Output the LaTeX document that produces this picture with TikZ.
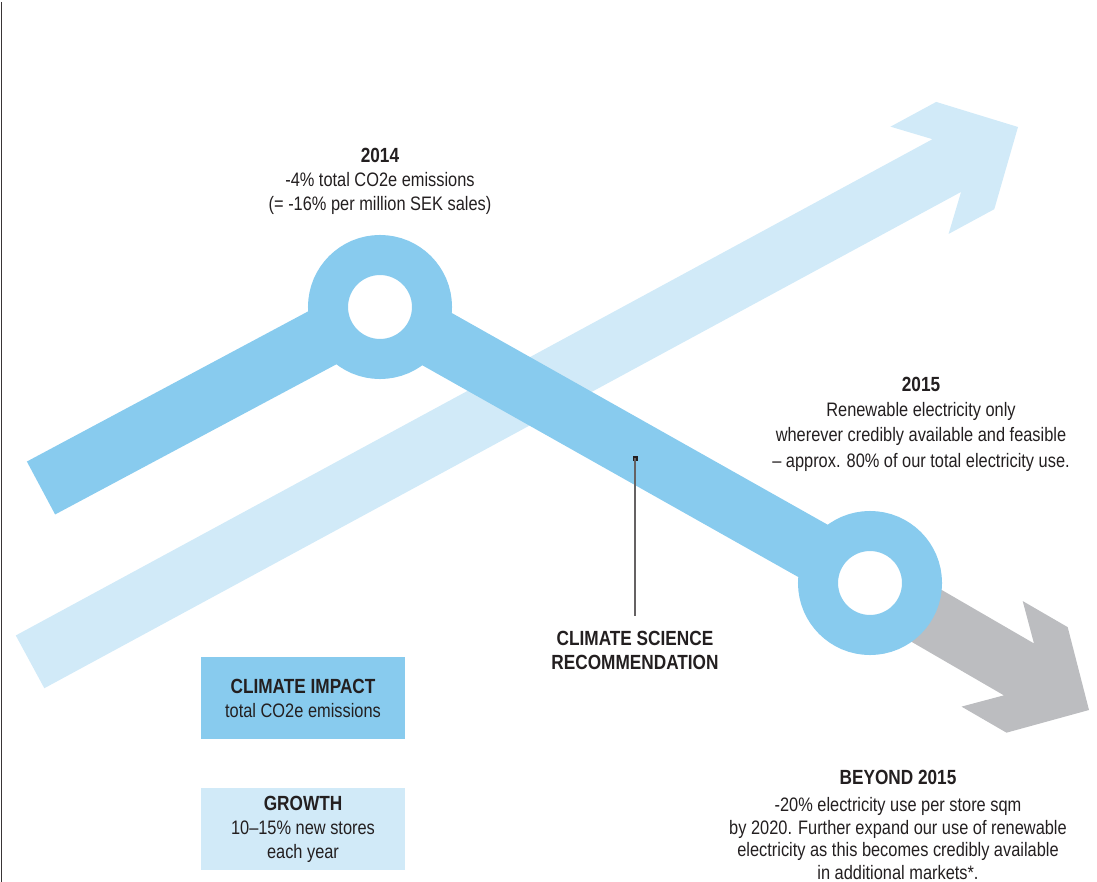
\documentclass[tikz,border=0pt]{standalone}
\usepackage{fontspec}
\setmainfont{Liberation Sans}[FakeStretch=0.84]
\definecolor{impact}{HTML}{88CBEE}
\definecolor{growth}{HTML}{D1EAF8}
\definecolor{future}{HTML}{BCBDC0}
\definecolor{ink}{HTML}{231F20}
\tikzset{
 txt/.style={text=ink, align=center, inner sep=0pt, font=\fontsize{19.5}{24}\selectfont},
 legendbox/.style={minimum width=204pt, minimum height=82pt, inner sep=0pt, align=center, text=ink, font=\fontsize{19.5}{24}\selectfont},
 ring/.style={circle, draw=impact, line width=40pt, fill=white, minimum size=104pt, inner sep=0pt},
 band/.style={line width=60pt, draw=impact},
}
\newcommand{\hd}[1]{{\fontsize{20.5}{24}\selectfont\bfseries #1}}
\begin{document}
\begin{tikzpicture}[x=1pt,y=-1pt]
\useasboundingbox (0,0) rectangle (1097,882);
% left rule
\coordinate (rt) at (1.5,2);
\coordinate (rb) at (1.5,882);
\draw[ink!90, line width=1.5pt] (rt) -- (rb);
% growth arrow
\begin{scope}[shift={(1018,127)}, rotate=28.43]
\fill[growth] (-1123.5,30) -- (-81,30) -- (-112,61) -- (-60,61) -- (0,0) -- (-60,-61) -- (-112,-61) -- (-81,-30) -- (-1123.5,-30) -- cycle;
\end{scope}
% future arrow
\begin{scope}[shift={(1089,710)}, rotate=-30.1]
\fill[future] (-253,30) -- (-81,30) -- (-112,61) -- (-60,61) -- (0,0) -- (-60,-61) -- (-112,-61) -- (-81,-30) -- (-253,-30) -- cycle;
\end{scope}
% climate impact line
\coordinate (tail) at (41,488);
\coordinate (p1) at (380,307);
\coordinate (p2) at (870,583);
\draw[band] (tail) -- (p1) -- (p2);
\node[ring] (c1) at (p1) {};
\node[ring] (c2) at (p2) {};
% pointer
\coordinate (pe) at (635,616);
\node[fill=ink, minimum size=5pt, inner sep=0pt] (sq) at (635,458) {};
\draw[ink!70, line width=1.3pt] (sq.center) -- (pe);
\node[txt, font=\fontsize{20.5}{24}\selectfont\bfseries] (cs) at (635,650) {CLIMATE SCIENCE\\RECOMMENDATION};
% texts
\node[txt] (t14) at (380,181) {\hd{2014}\\-4\% total CO2e emissions\\(= -16\% per million SEK sales)};
\node[txt, font=\fontsize{19.5}{25.3}\selectfont] (t15) at (921,424) {\hd{2015}\\Renewable electricity only\\wherever credibly available and feasible\\– approx. 80\% of our total electricity use.};
\node[txt, font=\fontsize{19.5}{22.7}\selectfont] (tb) at (898,825) {\hd{BEYOND 2015}\\[4pt]-20\% electricity use per store sqm\\by 2020. Further expand our use of renewable\\electricity as this becomes credibly available\\in additional markets*.};
% legend
\node[legendbox, fill=impact] (li) at (303,698) {\hd{CLIMATE IMPACT}\\total CO2e emissions};
\node[legendbox, fill=growth] (lg) at (303,829) {\hd{GROWTH}\\10–15\% new stores\\each year};
\end{tikzpicture}
\end{document}
